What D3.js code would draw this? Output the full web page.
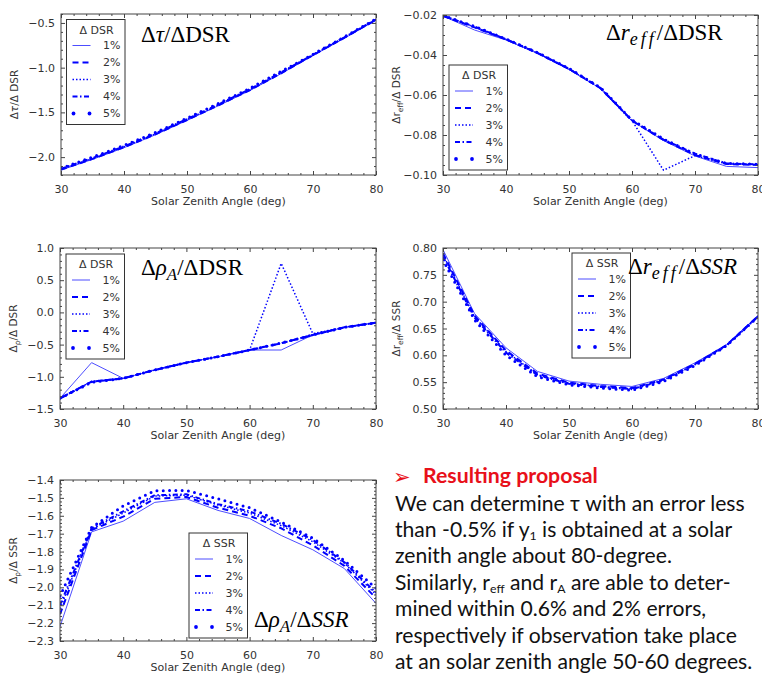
<!DOCTYPE html>
<html>
<head>
<meta charset="utf-8">
<script src="https://cdn.jsdelivr.net/npm/d3@7"></script>
<style>
  body { margin: 0; background: #fff; }
  svg { display: block; }
  .tick text { font-family: "DejaVu Sans"; font-size: 11px; fill: #333; }
  .tick line { stroke: #444; }
</style>
</head>
<body>
<svg id="chart" width="771" height="675"></svg>
<script>
'use strict'

// solar zenith angles (deg)
const sza = [30, 35, 40, 45, 50, 55, 60, 65, 70, 75, 80]
const levels = ['1%', '2%', '3%', '4%', '5%']

// Δτ/ΔDSR, one row per perturbation level
const tauDSR = [
  [-2.145, -2.025, -1.895, -1.750, -1.590, -1.425, -1.255, -1.065, -0.865, -0.670, -0.470],
  [-2.140, -2.020, -1.890, -1.745, -1.585, -1.420, -1.250, -1.060, -0.860, -0.665, -0.465],
  [-2.135, -2.015, -1.885, -1.740, -1.580, -1.415, -1.245, -1.055, -0.857, -0.662, -0.462],
  [-2.130, -2.010, -1.880, -1.735, -1.575, -1.410, -1.240, -1.050, -0.855, -0.660, -0.460],
  [-2.125, -2.000, -1.870, -1.725, -1.565, -1.400, -1.230, -1.040, -0.850, -0.655, -0.455]
]
// Δr_eff/ΔDSR
const reffDSR = [
  [-0.0205, -0.0275, -0.0325, -0.0392, -0.0472, -0.0568, -0.0730, -0.0828, -0.0905, -0.0957, -0.0963],
  [-0.0205, -0.0262, -0.0322, -0.0390, -0.0470, -0.0566, -0.0728, -0.0825, -0.0900, -0.0945, -0.0950],
  [-0.0205, -0.0260, -0.0322, -0.0390, -0.0470, -0.0566, -0.0728, -0.0976, -0.0903, -0.0944, -0.0948],
  [-0.0204, -0.0258, -0.0321, -0.0389, -0.0469, -0.0565, -0.0727, -0.0823, -0.0893, -0.0942, -0.0947],
  [-0.0203, -0.0256, -0.0320, -0.0388, -0.0467, -0.0563, -0.0725, -0.0820, -0.0895, -0.0942, -0.0946]
]
// Δρ_A/ΔDSR
const rhoDSR = [
  [-1.334, -0.780, -1.024, -0.894, -0.780, -0.688, -0.584, -0.584, -0.350, -0.232, -0.160],
  [-1.334, -1.076, -1.024, -0.894, -0.780, -0.688, -0.584, -0.480, -0.350, -0.232, -0.160],
  [-1.334, -1.070, -1.024, -0.894, -0.780, -0.688, -0.584, 0.762, -0.330, -0.232, -0.160],
  [-1.334, -1.080, -1.024, -0.894, -0.780, -0.688, -0.584, -0.478, -0.350, -0.232, -0.160],
  [-1.334, -1.085, -1.024, -0.894, -0.780, -0.688, -0.584, -0.476, -0.350, -0.232, -0.160]
]
// Δr_eff/ΔSSR
const reffSSR = [
  [0.797, 0.678, 0.614, 0.570, 0.552, 0.546, 0.542, 0.557, 0.586, 0.620, 0.674],
  [0.790, 0.674, 0.609, 0.566, 0.549, 0.543, 0.539, 0.555, 0.584, 0.619, 0.673],
  [0.787, 0.672, 0.607, 0.564, 0.548, 0.542, 0.538, 0.554, 0.583, 0.619, 0.673],
  [0.784, 0.670, 0.605, 0.563, 0.547, 0.541, 0.537, 0.553, 0.583, 0.618, 0.672],
  [0.778, 0.666, 0.600, 0.560, 0.545, 0.539, 0.535, 0.551, 0.581, 0.618, 0.672]
]
// Δρ_A/ΔSSR
const rhoSSR = [
  [-2.220, -1.690, -1.630, -1.525, -1.505, -1.570, -1.615, -1.710, -1.790, -1.895, -2.090],
  [-2.150, -1.680, -1.605, -1.505, -1.495, -1.555, -1.600, -1.670, -1.765, -1.880, -2.060],
  [-2.120, -1.675, -1.585, -1.490, -1.485, -1.540, -1.585, -1.655, -1.745, -1.865, -2.040],
  [-2.100, -1.670, -1.575, -1.485, -1.480, -1.535, -1.575, -1.645, -1.735, -1.860, -2.030],
  [-2.050, -1.665, -1.545, -1.460, -1.458, -1.505, -1.555, -1.635, -1.725, -1.850, -2.005]
]

// tick labels
const xTicks = [30, 40, 50, 60, 70, 80]
const tauTicks = [-2.0, -1.5, -1.0, -0.5]
const reffDSRTicks = [-0.10, -0.08, -0.06, -0.04, -0.02]
const rhoDSRTicks = [-1.5, -1.0, -0.5, 0.0, 0.5, 1.0]
const reffSSRTicks = [0.50, 0.55, 0.60, 0.65, 0.70, 0.75, 0.80]
const rhoSSRTicks = [-2.3, -2.2, -2.1, -2.0, -1.9, -1.8, -1.7, -1.6, -1.5, -1.4]

const blue = '#0000ff'
const styles = [
  { w: 1, dash: null, color: '#4d4dff' },
  { w: 2, dash: '6,4' },
  { w: 1.5, dash: '1.5,2' },
  { w: 2, dash: '5,2.5,1.5,2.5' },
  { w: 3, dash: '0,6.3', cap: 'round', marker: true }
]

// text pieces: i = italic, s = subscript
const panels = [
  { x0: 61, x1: 376, y0: 14, y1: 175, data: tauDSR, domain: [-2.2, -0.4], ticks: tauTicks, minor: 0.1, fmt: '.1f',
    ylab: [{ t: 'Δ' }, { t: 'τ', i: 1 }, { t: '/Δ DSR' }], lt: 'Δ DSR', lx: 66.5, ly: 19.5,
    title: [{ t: 'Δ' }, { t: 'τ', i: 1 }, { t: '/ΔDSR' }], tx: 141, ty: 42 },
  { x0: 443, x1: 758, y0: 15, y1: 175, data: reffDSR, domain: [-0.10, -0.02], ticks: reffDSRTicks, minor: 0.005, fmt: '.2f',
    ylab: [{ t: 'Δr' }, { t: 'eff', s: 1 }, { t: '/Δ DSR' }], lt: 'Δ DSR', lx: 449, ly: 65,
    title: [{ t: 'Δ' }, { t: 'r', i: 1 }, { t: 'eff', i: 1, s: 1 }, { t: '/ΔDSR' }], tx: 606, ty: 40, clip: true },
  { x0: 60, x1: 376, y0: 248, y1: 409, data: rhoDSR, domain: [-1.5, 1.0], ticks: rhoDSRTicks, minor: 0.1, fmt: '.1f',
    ylab: [{ t: 'Δ' }, { t: 'ρ', s: 1 }, { t: '/Δ DSR' }], lt: 'Δ DSR', lx: 66, ly: 254,
    title: [{ t: 'Δ' }, { t: 'ρ', i: 1 }, { t: 'A', i: 1, s: 1 }, { t: '/ΔDSR' }], tx: 141, ty: 275 },
  { x0: 443, x1: 758, y0: 248, y1: 409, data: reffSSR, domain: [0.50, 0.80], ticks: reffSSRTicks, minor: 0.01, fmt: '.2f',
    ylab: [{ t: 'Δr' }, { t: 'eff', s: 1 }, { t: '/Δ SSR' }], lt: 'Δ SSR', lx: 572, ly: 253,
    title: [{ t: 'Δ' }, { t: 'r', i: 1 }, { t: 'eff', i: 1, s: 1 }, { t: '/Δ' }, { t: 'SSR', i: 1 }], tx: 628, ty: 274, clip: true },
  { x0: 60, x1: 376, y0: 480, y1: 641, data: rhoSSR, domain: [-2.3, -1.4], ticks: rhoSSRTicks, minor: 0.02, fmt: '.1f',
    ylab: [{ t: 'Δ' }, { t: 'ρ', s: 1 }, { t: '/Δ SSR' }], lt: 'Δ SSR', lx: 189, ly: 533,
    title: [{ t: 'Δ' }, { t: 'ρ', i: 1 }, { t: 'A', i: 1, s: 1 }, { t: '/Δ' }, { t: 'SSR', i: 1 }], tx: 254, ty: 627 }
]

const svg = d3.select('#chart')
svg.append('defs').append('clipPath').attr('id', 'edge')
  .append('rect').attr('x', 0).attr('y', 0).attr('width', 762).attr('height', 675)

// writes text pieces into a text element, sub pieces get lowered
function pieces(text, parts, subSize, subDy, subSpacing) {
  parts.forEach((p, k) => {
    const prevSub = k > 0 && parts[k - 1].s
    const ts = text.append('tspan').text(p.t)
    if (p.i) ts.attr('font-style', 'italic')
    if (p.s) {
      ts.attr('font-size', subSize).attr('dy', subDy)
      if (subSpacing) ts.attr('letter-spacing', subSpacing)
    } else if (prevSub) ts.attr('dy', -subDy)
  })
}

panels.forEach((p, pi) => {
  const w = p.x1 - p.x0, h = p.y1 - p.y0
  const root = svg.append('g')
  if (p.clip) root.attr('clip-path', 'url(#edge)')
  const g = root.append('g').attr('transform', `translate(${p.x0},${p.y0})`)

  const x = d3.scaleLinear().domain([30, 80]).range([0, w])
  const y = d3.scaleLinear().domain(p.domain).range([h, 0])

  const clipId = 'plot' + pi
  g.append('clipPath').attr('id', clipId).append('rect').attr('width', w).attr('height', h)

  // series
  const line = d3.line().x((d, i) => x(sza[i])).y(d => y(d))
  const lines = g.append('g').attr('clip-path', `url(#${clipId})`)
  p.data.forEach((vals, s) => {
    const st = styles[s]
    lines.append('path')
      .attr('d', line(vals))
      .attr('fill', 'none')
      .attr('stroke', st.color || blue)
      .attr('stroke-width', st.w)
      .attr('stroke-dasharray', st.dash)
      .attr('stroke-linecap', st.cap || 'butt')
      .attr('stroke-linejoin', 'round')
  })

  // ticks (inward, all four sides) + minor ticks
  const [lo, hi] = p.domain
  const xMinor = d3.range(30, 80.001, 2).filter(v => v % 10 !== 0)
  const yMinor = d3.range(Math.round((hi - lo) / p.minor) + 1).map(k => lo + k * p.minor)
    .filter(v => !p.ticks.some(t => Math.abs(t - v) < p.minor / 10))
  const noDomain = a => a.select('.domain').remove()

  g.append('g').attr('transform', `translate(0,${h})`)
    .call(d3.axisBottom(x).tickValues(xTicks).tickFormat(d3.format('d')).tickSize(-4).tickPadding(10)).call(noDomain)
  g.append('g').attr('transform', `translate(0,${h})`)
    .call(d3.axisBottom(x).tickValues(xMinor).tickFormat('').tickSize(-2)).call(noDomain)
  g.append('g').call(d3.axisTop(x).tickValues(xTicks).tickFormat('').tickSize(-4)).call(noDomain)
  g.append('g').call(d3.axisTop(x).tickValues(xMinor).tickFormat('').tickSize(-2)).call(noDomain)

  g.append('g').call(d3.axisLeft(y).tickValues(p.ticks).tickFormat(d3.format(p.fmt)).tickSize(-4).tickPadding(6)).call(noDomain)
  g.append('g').call(d3.axisLeft(y).tickValues(yMinor).tickFormat('').tickSize(-2)).call(noDomain)
  g.append('g').attr('transform', `translate(${w},0)`)
    .call(d3.axisRight(y).tickValues(p.ticks).tickFormat('').tickSize(-4)).call(noDomain)
  g.append('g').attr('transform', `translate(${w},0)`)
    .call(d3.axisRight(y).tickValues(yMinor).tickFormat('').tickSize(-2)).call(noDomain)

  // frame
  g.append('rect').attr('width', w).attr('height', h)
    .attr('fill', 'none').attr('stroke', '#444').attr('stroke-width', 1)

  // axis titles
  g.append('text').attr('x', w / 2).attr('y', h + 30)
    .attr('text-anchor', 'middle').attr('font-family', 'DejaVu Sans').attr('font-size', 11).attr('fill', '#333')
    .text('Solar Zenith Angle (deg)')
  const yl = g.append('text')
    .attr('transform', `translate(-43,${h / 2}) rotate(-90)`)
    .attr('text-anchor', 'middle').attr('font-family', 'DejaVu Sans').attr('font-size', 10.5).attr('fill', '#333')
  pieces(yl, p.ylab, 7.5, 2.5)

  // legend
  const lg = root.append('g').attr('transform', `translate(${p.lx},${p.ly})`)
  lg.append('rect').attr('width', 58.5).attr('height', 105)
    .attr('fill', '#fff').attr('stroke', '#333').attr('stroke-width', 1)
  lg.append('text').attr('x', 30).attr('y', 14).attr('text-anchor', 'middle')
    .attr('font-family', 'DejaVu Sans').attr('font-size', 11).attr('fill', '#333').text(p.lt)
  levels.forEach((name, s) => {
    const st = styles[s]
    const ry = 26 + s * 17
    if (st.marker) {
      [7, 23].forEach(cx => lg.append('circle').attr('cx', cx).attr('cy', ry).attr('r', 1.9).attr('fill', blue))
    } else {
      lg.append('line').attr('x1', 6).attr('x2', 24).attr('y1', ry).attr('y2', ry)
        .attr('stroke', st.color || blue).attr('stroke-width', st.w)
        .attr('stroke-dasharray', st.dash)
    }
    lg.append('text').attr('x', 54).attr('y', ry).attr('dy', '0.36em').attr('text-anchor', 'end')
      .attr('font-family', 'DejaVu Sans').attr('font-size', 11).attr('fill', '#333').text(name)
  })

  // big panel title
  const tt = root.append('text').attr('x', p.tx).attr('y', p.ty)
    .attr('font-family', 'Liberation Serif').attr('font-size', 23).attr('fill', '#000')
  const hasEff = p.title.some(d => d.t === 'eff')
  pieces(tt, p.title, hasEff ? 18 : 17, 5, hasEff ? 3 : null)
})

// conclusion text block
const proposalHead = 'Resulting proposal'
const proposalLines = [
  [{ t: 'We can determine τ with an error less' }],
  [{ t: 'than -0.5% if y' }, { t: '1', s: 1 }, { t: ' is obtained at a solar' }],
  [{ t: 'zenith angle about 80-degree.' }],
  [{ t: 'Similarly, r' }, { t: 'eff', s: 1 }, { t: ' and r' }, { t: 'A', s: 1 }, { t: ' are able to deter-' }],
  [{ t: 'mined within 0.6% and 2% errors,' }],
  [{ t: 'respectively if observation take place' }],
  [{ t: 'at an solar zenith angle 50-60 degrees.' }]
]

const tb = svg.append('g').attr('font-family', 'Lato')
tb.append('text').attr('x', 393).attr('y', 484).attr('font-family', 'DejaVu Sans')
  .attr('font-size', 21).attr('fill', '#e8101a').text('➢')
const head = tb.append('text').attr('x', 423).attr('y', 483).attr('font-size', 20).attr('font-weight', 'bold')
  .attr('fill', '#e8101a').text(proposalHead)
head.attr('font-size', 20 * 175 / head.node().getComputedTextLength())

// fit the font size so the first line spans the same width as the slide text
const probe = tb.append('text').attr('font-size', 20).text(proposalLines[0][0].t)
const bodySize = 20 * 350 / probe.node().getComputedTextLength()
probe.remove()

proposalLines.forEach((parts, k) => {
  const t = tb.append('text').attr('x', 395).attr('y', 510.5 + k * 26.4)
    .attr('font-size', bodySize).attr('fill', '#111')
  pieces(t, parts, bodySize * 0.58, 3)
})
</script>
</body>
</html>
